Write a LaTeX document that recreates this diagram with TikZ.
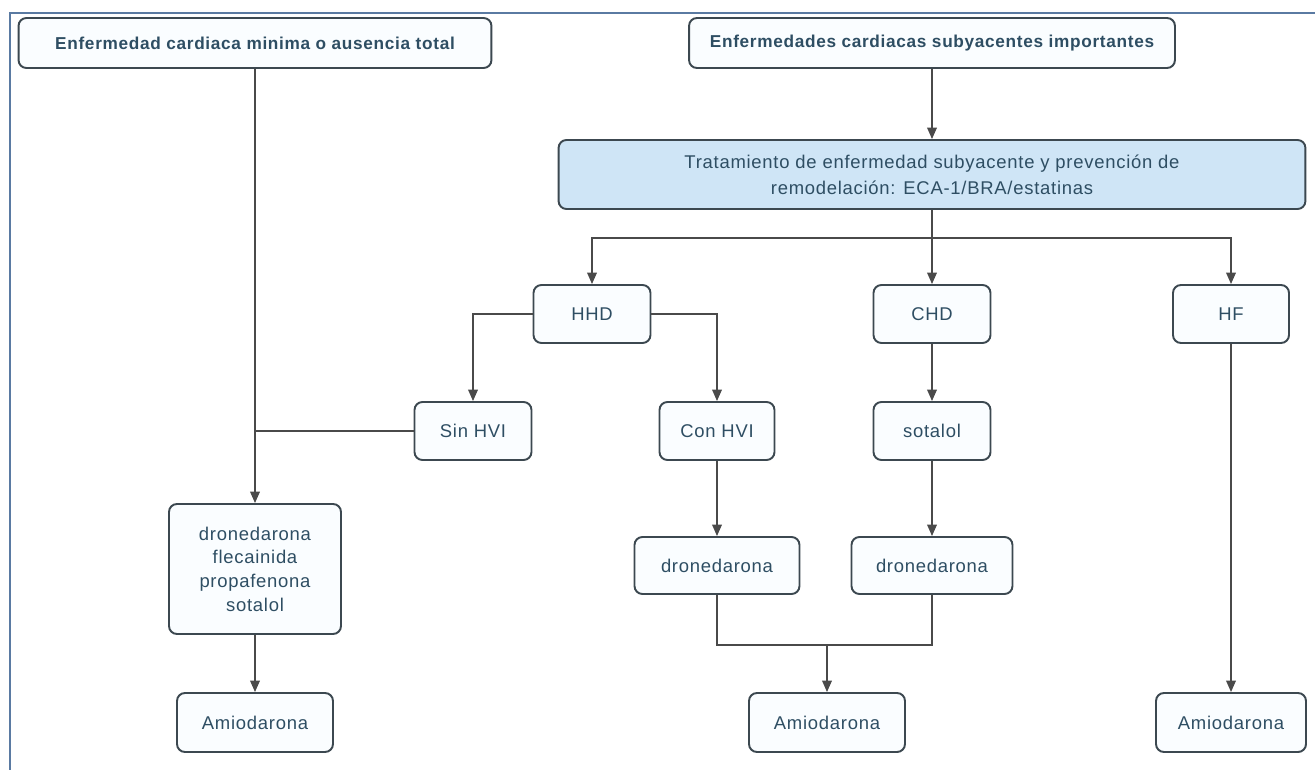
\documentclass[tikz,border=0pt]{standalone}
\usepackage{fontspec}
\setmainfont[LetterSpace=4]{Liberation Sans}
\usetikzlibrary{arrows.meta}
\definecolor{boxline}{HTML}{3C4850}
\definecolor{boxtext}{HTML}{2E4E63}
\definecolor{treatfill}{HTML}{CFE5F6}
\definecolor{boxfill}{HTML}{FAFDFF}
\definecolor{framecol}{HTML}{5A7AA2}
\definecolor{arrowcol}{HTML}{4A4A4A}

\begin{document}
\begin{tikzpicture}[x=0.02cm,y=-0.02cm,
    box/.style={draw=boxline,line width=1.1pt,rounded corners=4.5pt,fill=boxfill,
      text=boxtext,align=center,font=\fontsize{10.5}{13.5}\selectfont,inner sep=2pt},
    headbox/.style={box,font=\fontsize{9.8}{12}\selectfont\bfseries,minimum height=1cm},
    smallbox/.style={box,minimum width=2.34cm,minimum height=1.16cm},
    drugbox/.style={box,minimum width=3.24cm,minimum height=1.14cm},
    amiobox/.style={box,minimum width=3.12cm,minimum height=1.18cm},
    arr/.style={draw=arrowcol,line width=0.8pt,-{Triangle[width=5.5pt,length=6.5pt]}},
    link/.style={draw=arrowcol,line width=0.8pt}]
        \useasboundingbox (0,0) rectangle (1315,770);
        % Frame at top and left
        \draw[framecol,line width=1.7pt] (10,770) -- (10,13) -- (1315,13);
        % Top row
        \node[headbox,minimum width=9.46cm] (minimal) at (255,43) {Enfermedad cardiaca minima o ausencia total};
        \node[headbox,minimum width=9.72cm] (major) at (932,43) {Enfermedades cardiacas subyacentes importantes};
        \node[box,fill=treatfill,minimum width=14.94cm,minimum height=1.38cm,
          font=\fontsize{10.5}{15}\selectfont] (treat) at (932,174.5)
          {Tratamiento de enfermedad subyacente y prevención de\\remodelación: ECA-1/BRA/estatinas};
        % Diseases
        \node[smallbox] (hhd) at (592,314) {HHD};
        \node[smallbox] (chd) at (932,314) {CHD};
        \node[smallbox,minimum width=2.32cm] (hf) at (1231,314) {HF};
        \node[smallbox] (sinhvi) at (473,431) {Sin HVI};
        \node[smallbox,minimum width=2.3cm] (conhvi) at (717,431) {Con HVI};
        \node[smallbox] (sotalol) at (932,431) {sotalol};
        % Drugs
        \node[box,minimum width=3.44cm,minimum height=2.6cm] (drugs) at (255,569)
          {dronedarona\\flecainida\\propafenona\\sotalol};
        \node[drugbox,minimum width=3.3cm] (drona) at (717,565.5) {dronedarona};
        \node[drugbox,minimum width=3.22cm] (dronb) at (932,565.5) {dronedarona};
        \node[amiobox] (amioa) at (255,722.5) {Amiodarona};
        \node[amiobox] (amiob) at (827,722.5) {Amiodarona};
        \node[amiobox,minimum width=3cm] (amioc) at (1231,722.5) {Amiodarona};
        % Left branch
        \draw[arr] (minimal) -- (drugs);
        \draw[link] (sinhvi.west) -- (sinhvi.west -| minimal.south);
        \draw[arr] (drugs) -- (amioa);
        % Right branch
        \draw[arr] (major) -- (treat);
        \coordinate (fork) at (932,238);
        \draw[link] (treat) -- (fork);
        \draw[arr] (fork) -| (hhd);
        \draw[arr] (fork) -- (chd);
        \draw[arr] (fork) -| (hf);
        \draw[arr] (hhd) -| (sinhvi);
        \draw[arr] (hhd) -| (conhvi);
        \draw[arr] (chd) -- (sotalol);
        \draw[arr] (conhvi) -- (drona);
        \draw[arr] (sotalol) -- (dronb);
        \coordinate (merge) at (827,645);
        \draw[link] (drona) |- (merge) -| (dronb);
        \draw[arr] (merge) -- (amiob);
        \draw[arr] (hf) -- (amioc);
\end{tikzpicture}
\end{document}
